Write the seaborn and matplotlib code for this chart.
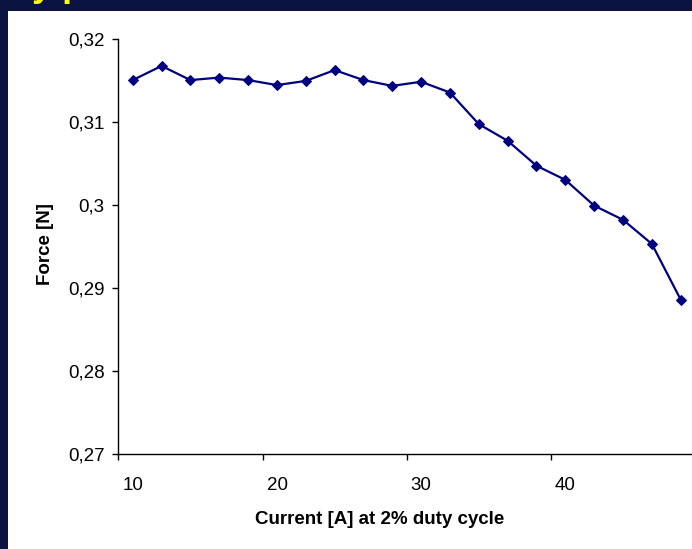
import matplotlib
matplotlib.use("Agg")
import matplotlib.pyplot as plt
import matplotlib.transforms as mtransforms
from matplotlib.patches import Rectangle
from matplotlib.ticker import FuncFormatter, FixedLocator
import seaborn as sns
import pandas as pd

# ---- data ----
current = [11, 13, 15, 17, 19, 21, 23, 25, 27, 29,
           31, 33, 35, 37, 39, 41, 43, 45, 47, 49]
force = [0.3150, 0.3167, 0.3150, 0.3153, 0.3150, 0.3144, 0.3149, 0.3162, 0.3150, 0.3143,
         0.3148, 0.3135, 0.3097, 0.3077, 0.3047, 0.3030, 0.2999, 0.2982, 0.2953, 0.2886]
x_ticks = [10, 20, 30, 40]
y_ticks = [0.27, 0.28, 0.29, 0.30, 0.31, 0.32]
x_label = "Current [A] at 2% duty cycle"
y_label = "Force [N]"

df = pd.DataFrame({"current": current, "force": force})

sns.set_style("white")
plt.rcParams["font.family"] = ["Liberation Sans", "DejaVu Sans"]

W, H = 692, 549
fig = plt.figure(figsize=(W / 100, H / 100), dpi=100)
fig.patch.set_facecolor("#0b1440")

# white slide panel
fig.patches.append(Rectangle((8 / W, 0), 1, (H - 11) / H, transform=fig.transFigure,
                             facecolor="white", edgecolor="none", zorder=-10))
# clipped slide title fragment at top
fig.text(32 / W, 1 + 4 / H, "y p", color="#ffff00", fontsize=26, fontweight="bold",
         va="baseline", ha="left", zorder=-5)

x0, x1 = 118.3, 118.3 + 40 * 14.42
y_top, y_bot = 38.5, 454.3
ax = fig.add_axes([x0 / W, (H - y_bot) / H, (x1 - x0) / W, (y_bot - y_top) / H])
ax.set_facecolor("none")
ax.set_zorder(5)

sns.lineplot(data=df, x="current", y="force", ax=ax, color="#000080", linewidth=1.6,
             marker="D", markersize=5.5, markeredgecolor="#000080", markerfacecolor="#000080")

ax.set_xlim(10, 50)
ax.set_ylim(0.27, 0.32)
ax.xaxis.set_major_locator(FixedLocator(x_ticks))
ax.yaxis.set_major_locator(FixedLocator(y_ticks))
ax.yaxis.set_major_formatter(FuncFormatter(lambda v, p: ("%g" % round(v, 4)).replace(".", ",")))

for s in ["top", "right"]:
    ax.spines[s].set_visible(False)
for s in ["left", "bottom"]:
    ax.spines[s].set_color("black")
    ax.spines[s].set_linewidth(1.0)

ax.tick_params(axis="both", which="major", direction="out", length=4, width=1,
               color="black", labelsize=13.5, labelcolor="black",
               bottom=True, left=True, top=False, right=False)
ax.tick_params(axis="y", pad=6)
ax.tick_params(axis="x", pad=12)

# Excel-style: x tick labels shifted right of the tick marks
offset = mtransforms.ScaledTranslation(14.5 / 100, 0, fig.dpi_scale_trans)
for lbl in ax.get_xticklabels():
    lbl.set_transform(lbl.get_transform() + offset)

ax.set_xlabel("")
ax.set_ylabel("")
fig.text(379.5 / W, 1 - 520 / H, x_label, ha="center", va="center",
         fontsize=13.5, fontweight="bold", color="black")
fig.text(46 / W, 1 - 244 / H, y_label, ha="center", va="center", rotation=90,
         fontsize=13.5, fontweight="bold", color="black")

fig.savefig("out.png", dpi=100, facecolor=fig.get_facecolor())
